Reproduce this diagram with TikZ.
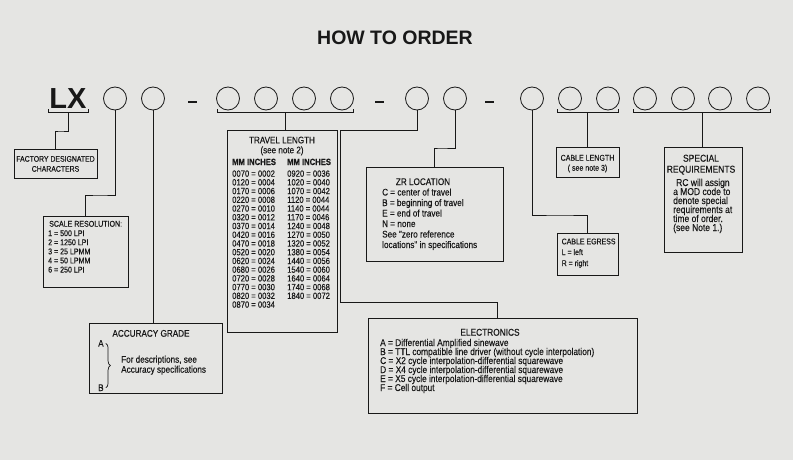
\documentclass[tikz,border=0pt]{standalone}
\usepackage{fontspec}
\setmainfont{Liberation Sans}
\newfontfamily\nar{Liberation Sans}[FakeStretch=0.85,FakeBold=0.3]
\usetikzlibrary{decorations.pathreplacing}
\definecolor{paper}{RGB}{229,229,227}
\definecolor{ink}{RGB}{24,24,24}
\begin{document}
\begin{tikzpicture}[x=1pt,y=-1pt,
  ln/.style={draw=ink,line width=0.8pt},
  frame/.style={draw=ink,line width=0.8pt,anchor=north west,inner sep=0pt,outer sep=0pt},
  dig/.style={draw=ink,line width=0.8pt,circle,minimum size=23pt,inner sep=0pt},
  tx/.style={inner sep=0pt,text=ink,anchor=base west},
  tc/.style={inner sep=0pt,text=ink,anchor=base},
  fs/.style={font=\nar\fontsize{#1}{#1}\selectfont},
  fb/.style={font=\nar\bfseries\fontsize{#1}{#1}\selectfont}]
\fill[paper] (0,0) rectangle (793,460);
\path[use as bounding box] (0,0) rectangle (793,460);
% title and prefix
\node[tc,font=\bfseries\fontsize{19.5}{20}\selectfont] (title) at (395,45) {HOW TO ORDER};
\node[tc,font=\bfseries\fontsize{29}{30}\selectfont] (lx) at (68,109) {LX};
% digit circles
\foreach \n/\x in {c1/115,c2/153,c3/228,c4/266,c5/304,c6/342,c7/417,c8/455,c9/532,c10/570,c11/608,c12/645,c13/683,c14/720,c15/758}
  \node[dig] (\n) at (\x,98.5) {};
% dashes
\draw[ink,line width=2.2pt] (188,102) -- (197,102);
\draw[ink,line width=2.2pt] (375,102) -- (384,102);
\draw[ink,line width=2.2pt] (485,102) -- (494,102);
% brackets
\draw[ln] (48,109) |- (88,112.5) -- (88,109);
\draw[ln] (217,109) |- (353,112.5) -- (353,109);
\draw[ln] (557,109) |- (618,112.5) -- (618,109);
\draw[ln] (633,109) |- (770,112.5) -- (770,109);
\coordinate (bLX) at (68,112.5);
\coordinate (bTR) at (285,112.5);
\coordinate (bCL) at (587,112.5);
\coordinate (bSP) at (702,112.5);
% boxes
\node[frame,minimum width=83pt,minimum height=29pt] (fact) at (14,149) {};
\node[frame,minimum width=85pt,minimum height=71pt] (scale) at (43,216) {};
\node[frame,minimum width=133pt,minimum height=70pt] (acc) at (89,323) {};
\node[frame,minimum width=110pt,minimum height=202pt] (trav) at (227,130) {};
\node[frame,minimum width=137pt,minimum height=94pt] (zr) at (366,167) {};
\node[frame,minimum width=269pt,minimum height=95pt] (ele) at (368,318) {};
\node[frame,minimum width=63pt,minimum height=30pt] (clen) at (556,147) {};
\node[frame,minimum width=61pt,minimum height=42pt] (egr) at (557,233) {};
\node[frame,minimum width=78pt,minimum height=105pt] (spec) at (664,147) {};
% connectors
\coordinate (k1) at (60,131);
\draw[ln] (bLX) |- (k1) -| (fact.north);
\coordinate (k2) at (100,195);
\draw[ln] (c1.south) |- (k2) -| (scale.north);
\draw[ln] (c2.south) -- (c2.south |- acc.north);
\draw[ln] (bTR) -- (bTR |- trav.north);
\coordinate (k3) at (340,130);
\coordinate (k4) at (497,302);
\draw[ln] (c7.south) |- (k3) |- (k4) -- (k4 |- ele.north);
\coordinate (k5) at (440,148);
\draw[ln] (c8.south) |- (k5) -| (zr.north);
\coordinate (k6) at (560,215);
\draw[ln] (c9.south) |- (k6) -| (egr.north);
\draw[ln] (bCL) -- (bCL |- clen.north);
\draw[ln] (bSP) -- (bSP |- spec.north);
% factory
\node[tc,fs=8.1] (f1) at (55.5,161.7) {FACTORY DESIGNATED};
\node[tc,fs=8.1] (f2) at (55.5,171.7) {CHARACTERS};
% scale resolution
\node[tx,fs=8.3] (s0) at (49,226.7) {SCALE RESOLUTION:};
\foreach \s [count=\i] in {1 = 500 LPI, 2 = 1250 LPI, 3 = 25 LPMM, 4 = 50 LPMM, 6 = 250 LPI}
  \node[tx,fs=8.3] (s\i) at (48,{227+9.1*\i}) {\s};
% accuracy grade
\node[tc,fs=9.6] (a0) at (151,336.7) {ACCURACY GRADE};
\node[tx,fs=9.6] (aA) at (98,346.7) {A};
\node[tx,fs=9.6] (aB) at (98,391) {B};
\node[tx,fs=9.6] (a1) at (121,362.7) {For descriptions, see};
\node[tx,fs=9.6] (a2) at (121,372.7) {Accuracy specifications};
\draw[ln,line width=0.7pt,decorate,decoration={brace,amplitude=4.5pt}] ([xshift=2pt]aA.east) -- ([xshift=2pt]aB.east);
% travel length
\node[tc,fs=9.5] (tr0) at (282,143.3) {TRAVEL LENGTH};
\node[tc,fs=9.5] (tr1) at (282,153.3) {(see note 2)};
\node[tx,fb=9] (th1) at (232,165) {MM INCHES};
\node[tx,fb=9] (th2) at (287,165) {MM INCHES};
\foreach \a/\b [count=\i] in {0070/0002,0120/0004,0170/0006,0220/0008,0270/0010,0320/0012,0370/0014,0420/0016,0470/0018,0520/0020,0620/0024,0680/0026,0720/0028,0770/0030,0820/0032,0870/0034}
  \node[tx,fs=9] (tl\i) at (232,{167.97+8.73*\i}) {\a\ = \b};
\foreach \a/\b [count=\i] in {0920/0036,1020/0040,1070/0042,1120/0044,1140/0044,1170/0046,1240/0048,1270/0050,1320/0052,1380/0054,1440/0056,1540/0060,1640/0064,1740/0068,1840/0072}
  \node[tx,fs=9] (tr\i) at (287,{167.97+8.73*\i}) {\a\ = \b};
% ZR location
\node[tc,fs=9.6] (z0) at (423,185) {ZR LOCATION};
\foreach \s [count=\i] in {C = center of travel, B = beginning of travel, E = end of travel, N = none, See "zero reference, locations" in specifications}
  \node[tx,fs=9.6] (z\i) at (382,{185+10.5*\i}) {\s};
% electronics
\node[tc,fs=9.8] (e0) at (490,335.7) {ELECTRONICS};
\foreach \s [count=\i] in {A = Differential Amplified sinewave, B = TTL compatible line driver (without cycle interpolation), C = X2 cycle interpolation-differential squarewave, D = X4 cycle interpolation-differential squarewave, E = X5 cycle interpolation-differential squarewave, F = Cell output}
  \node[tx,fs=9.8] (e\i) at (380,{337+9*\i}) {\s};
% cable length
\node[tc,fs=8.3] (cl1) at (587.5,160.7) {CABLE LENGTH};
\node[tc,fs=8.3] (cl2) at (587.5,170.7) {( see note 3)};
% cable egress
\node[tx,fs=8.2] (ce0) at (561.5,244.3) {CABLE EGRESS};
\node[tx,fs=8.2] (ce1) at (561.5,255) {L = left};
\node[tx,fs=8.2] (ce2) at (561.5,266) {R = right};
% special requirements
\node[tc,fs=10] (sp1) at (701,161.7) {SPECIAL};
\node[tc,fs=10] (sp2) at (701,172.7) {REQUIREMENTS};
\node[tx,fs=10] (sp3) at (676,186) {RC will assign};
\foreach \s [count=\i from 4] in {a MOD code to, denote special, requirements at, time of order., (see Note 1.)}
  \node[tx,fs=10] (sp\i) at (673,{159+9*\i}) {\s};
\end{tikzpicture}
\end{document}
